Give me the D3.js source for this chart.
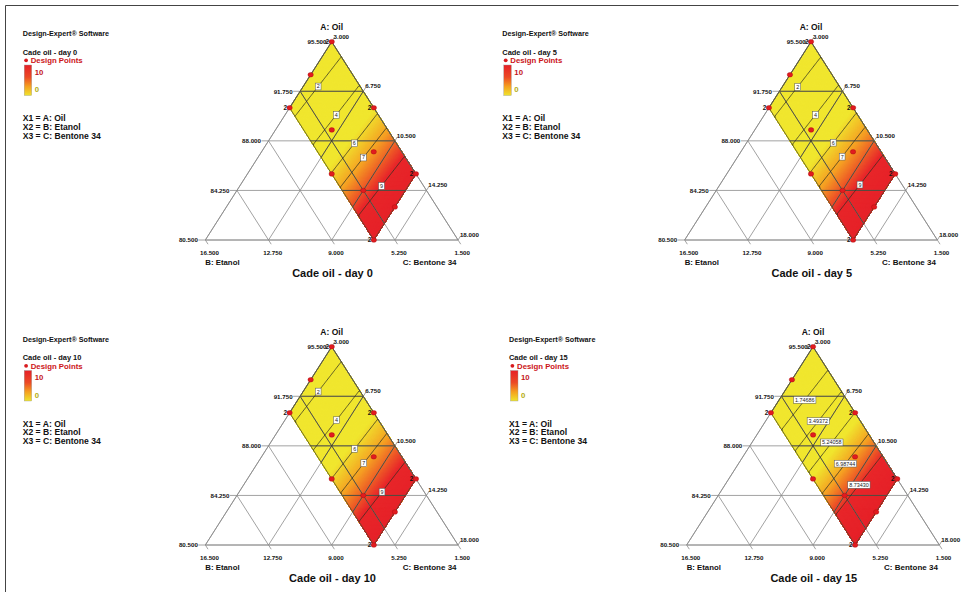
<!DOCTYPE html>
<html><head><meta charset="utf-8">
<script src="https://cdn.jsdelivr.net/npm/d3@7"></script>
<style>
html,body{margin:0;padding:0;background:#fff;}
svg{display:block;font-family:"Liberation Sans",Arial,sans-serif;font-weight:bold;}
</style></head><body>
<svg id="chart" width="965" height="592"></svg>
<script>
// Mixture components and their axis ticks (% w/w)
const tickA = [95.5, 91.75, 88, 84.25, 80.5];
const tickB = [16.5, 12.75, 9, 5.25, 1.5];
const tickC = [3, 6.75, 10.5, 14.25, 18];
const tickLabelsA = ["95.500", "91.750", "88.000", "84.250", "80.500"];
const tickLabelsB = ["16.500", "12.750", "9.000", "5.250", "1.500"];
const tickLabelsC = ["3.000", "6.750", "10.500", "14.250", "18.000"];

// Constrained design space: B in [1.5, 6.5], C in [3, 13], A = 100 - B - C
const limitsB = [1.5, 6.5];
const limitsC = [3, 13];

// Design points (A, B, C) with replicate counts
const pointA = [95.5, 93, 90.5, 90.5, 88.83, 87.17, 85.5, 84.25, 85.5, 83, 80.5];
const pointB = [1.5, 4, 6.5, 1.5, 4.83, 3.17, 6.5, 5.25, 1.5, 4, 6.5];
const pointC = [3, 3, 3, 8, 6.34, 9.66, 8, 10.5, 13, 13, 13];
const pointReps = [2, 1, 2, 2, 1, 1, 1, 1, 2, 1, 2];

// One panel per storage day
const panelTitles = ["Cade oil - day 0", "Cade oil - day 5", "Cade oil - day 10", "Cade oil - day 15"];
// Linear mixture model (L-pseudo components A', B', C') for each day
const coefA = [0.94, 0.90, 0.95, -0.18];
const coefB = [2.33, 2.30, 2.30, 1.45];
const coefC = [14.90, 15.10, 14.80, 16.12];
// Contour levels drawn and labelled on each panel
const contourLevels = [
  [2, 4, 6, 7, 9],
  [2, 4, 6, 7, 9],
  [2, 4, 6, 7, 9],
  [1.74686, 3.49372, 5.24058, 6.98744, 8.73430]
];
const contourFormats = ["d", "d", "d", ".6r"];

// Layout: triangle apex of each panel and legend origin
const apexX = [331.7, 811, 331.7, 813];
const apexY = [41.7, 41.7, 346.7, 346.7];
const legendX = [22.7, 502.3, 22.7, 509];
const legendY = [0, 0, 305.5, 305.5];
const triW = 252.7, triH = 198.3;

const svg = d3.select("#chart");
const defs = svg.append("defs");

// response colour ramp
const fillColor = d3.scaleLinear()
  .domain([0, 5.7, 7.2, 8.9, 12])
  .range(["#f0e62e", "#f0e62e", "#f5a023", "#e8262a", "#e41e27"])
  .clamp(true);

const legendGrad = defs.append("linearGradient").attr("id", "legendGrad")
  .attr("x1", 0).attr("y1", 0).attr("x2", 0).attr("y2", 1);
[[0, "#e62027"], [0.4, "#ec4a25"], [0.7, "#f5a020"], [1, "#efe42c"]].forEach(s =>
  legendGrad.append("stop").attr("offset", s[0]).attr("stop-color", s[1]));

// page frame (left and top rules)
svg.append("path").attr("d", "M5.5,600V5.5H958.5").attr("fill", "none")
  .attr("stroke", "#444").attr("stroke-width", 1);

const nB = 50, nC = 100;

panelTitles.forEach((title, k) => {
  const g = svg.append("g");
  const tx = apexX[k], ty = apexY[k];

  // ternary projection through linear scales
  const yScale = d3.scaleLinear().domain([80.5, 95.5]).range([ty + triH, ty]);
  const xScale = d3.scaleLinear().domain([-15, 15]).range([tx - triW / 2, tx + triW / 2]);
  const proj = (A, B, C) => [xScale((C - 3) - (B - 1.5)), yScale(A)];
  const model = (A, B, C) => coefA[k] * (A - 80.5) / 15 + coefB[k] * (B - 1.5) / 15 + coefC[k] * (C - 3) / 15;

  const top = proj(95.5, 1.5, 3), bl = proj(80.5, 16.5, 3), br = proj(80.5, 1.5, 18);
  const unit = (p, q) => { const d = Math.hypot(q[0] - p[0], q[1] - p[1]); return [(q[0] - p[0]) / d, (q[1] - p[1]) / d]; };
  const dirB = unit(top, br);   // down-right, along constant B
  const dirC = unit(bl, top);   // up-right, along constant C

  // ---- filled response surface on the design region
  const gxScale = d3.scaleLinear().domain([0, nB]).range(limitsB);
  const gyScale = d3.scaleLinear().domain([0, nC]).range(limitsC);
  const values = new Array(nB * nC);
  for (let j = 0; j < nC; j++) for (let i = 0; i < nB; i++) {
    const B = gxScale(i + 0.5), C = gyScale(j + 0.5);
    values[j * nB + i] = model(100 - B - C, B, C);
  }
  const toPx = (gx, gy) => { const B = gxScale(gx), C = gyScale(gy); return proj(100 - B - C, B, C); };
  const geo = d3.geoPath(d3.geoTransform({
    point(x, y) { const p = toPx(x, y); this.stream.point(p[0], p[1]); }
  }));
  const [vmin, vmax] = d3.extent(values);
  const step = 0.05;
  const bands = d3.range(Math.floor(vmin / step) * step, vmax, step);
  const contours = d3.contours().size([nB, nC]).thresholds(bands)(values);
  g.append("g").selectAll("path").data(contours).join("path")
    .attr("d", geo).attr("fill", d => fillColor(d.value + step / 2))
    .attr("stroke", d => fillColor(d.value + step / 2)).attr("stroke-width", 0.3);

  // ---- grid lines and triangle
  const region = [proj(95.5, 1.5, 3), proj(85.5, 1.5, 13), proj(80.5, 6.5, 13), proj(90.5, 6.5, 3)];
  const clipId = "clip" + k;
  defs.append("clipPath").attr("id", clipId).append("path")
    .attr("d", "M" + region.map(p => p.join(",")).join("L") + "Z");

  const gridSegs = [];
  tickA.forEach(a => gridSegs.push([proj(a, 100 - a - 3, 3), proj(a, 1.5, 100 - a - 1.5)]));
  tickB.forEach(b => gridSegs.push([proj(80.5, b, 100 - 80.5 - b), proj(100 - 3 - b, b, 3)]));
  tickC.forEach(c => gridSegs.push([proj(80.5, 100 - 80.5 - c, c), proj(100 - 1.5 - c, 1.5, c)]));
  const seg = d => `M${d[0][0]},${d[0][1]}L${d[1][0]},${d[1][1]}`;
  g.append("g").selectAll("path").data(gridSegs).join("path").attr("d", seg)
    .attr("stroke", "#8a8a8a").attr("stroke-width", 0.8).attr("fill", "none");
  g.append("g").attr("clip-path", `url(#${clipId})`).selectAll("path").data(gridSegs).join("path").attr("d", seg)
    .attr("stroke", "#3a3a2a").attr("stroke-width", 0.75).attr("fill", "none");
  g.append("path").attr("d", `M${top}L${bl}L${br}Z`).attr("fill", "none")
    .attr("stroke", "#8a8a8a").attr("stroke-width", 0.8);

  // ticks beyond the edges
  const ticks = [];
  tickA.forEach(a => { const p = proj(a, 100 - a - 3, 3); ticks.push([p, [p[0] - 7, p[1]]]); });
  tickB.forEach(b => { const p = proj(80.5, b, 100 - 80.5 - b); ticks.push([p, [p[0] + dirB[0] * 5, p[1] + dirB[1] * 5]]); });
  tickC.forEach(c => { const p = proj(100 - 1.5 - c, 1.5, c); ticks.push([p, [p[0] + dirC[0] * 5, p[1] + dirC[1] * 5]]); });
  g.append("g").selectAll("path").data(ticks).join("path").attr("d", seg)
    .attr("stroke", "#8a8a8a").attr("stroke-width", 0.8);

  // region outline
  g.append("path").attr("d", "M" + region.map(p => p.join(",")).join("L") + "Z")
    .attr("fill", "none").attr("stroke", "#4a4a30").attr("stroke-width", 0.8);

  // ---- contour lines (interior parts only)
  const onEdge = (p, q) => (p[0] === 0 && q[0] === 0) || (p[0] === nB && q[0] === nB) ||
                           (p[1] === 0 && q[1] === 0) || (p[1] === nC && q[1] === nC);
  const lineContours = d3.contours().size([nB, nC]).thresholds(contourLevels[k])(values);
  const linePaths = lineContours.map(c => {
    let d = "";
    c.coordinates.forEach(poly => poly.forEach(ring => {
      let pen = false;
      for (let i = 0; i < ring.length - 1; i++) {
        const p = ring[i], q = ring[i + 1];
        if (onEdge(p, q)) { pen = false; continue; }
        const a = toPx(p[0], p[1]), b = toPx(q[0], q[1]);
        if (!pen) { d += `M${a[0]},${a[1]}`; pen = true; }
        d += `L${b[0]},${b[1]}`;
      }
    }));
    return d;
  });
  g.append("g").selectAll("path").data(linePaths).join("path").attr("d", d => d)
    .attr("fill", "none").attr("stroke", "#2e2e22").attr("stroke-width", 0.75);

  // contour labels along the mid line B = 4
  const fmt = d3.format(contourFormats[k]);
  contourLevels[k].forEach(level => {
    let lo = limitsC[0], hi = limitsC[1];
    for (let it = 0; it < 40; it++) {
      const mid = (lo + hi) / 2;
      if (model(100 - 4 - mid, 4, mid) < level) lo = mid; else hi = mid;
    }
    const p = proj(100 - 4 - lo, 4, lo);
    const t = g.append("text").attr("x", p[0]).attr("y", p[1]).attr("dy", "0.36em")
      .attr("text-anchor", "middle").attr("font-size", 5.4).attr("font-weight", "normal")
      .attr("fill", "#222").text(fmt(level));
    const bb = t.node().getBBox();
    g.insert("rect", () => t.node()).attr("x", bb.x - 1.4).attr("y", p[1] - 3.4)
      .attr("width", bb.width + 2.8).attr("height", 6.8)
      .attr("fill", "#fff").attr("stroke", "#555").attr("stroke-width", 0.5);
  });

  // ---- design points
  pointA.forEach((a, i) => {
    const p = proj(a, pointB[i], pointC[i]);
    g.append("ellipse").attr("cx", p[0]).attr("cy", p[1]).attr("rx", 2.7).attr("ry", 2.3)
      .attr("fill", "#e11b1f").attr("stroke", "#a50d10").attr("stroke-width", 0.4);
    if (pointReps[i] > 1) {
      g.append("text").attr("x", p[0] - 2.6).attr("y", p[1]).attr("dy", "0.36em")
        .attr("text-anchor", "end").attr("font-size", 6.3).attr("fill", "#111").text(pointReps[i]);
    }
  });

  // ---- tick labels
  tickA.forEach((a, i) => {
    const p = proj(a, 100 - a - 3, 3);
    g.append("text").attr("x", p[0] - (i === 0 ? 5.2 : 7.5)).attr("y", p[1]).attr("dy", "0.36em")
      .attr("text-anchor", "end").attr("font-size", 6.2).attr("fill", "#111").text(tickLabelsA[i]);
  });
  tickB.forEach((b, i) => {
    const p = proj(80.5, b, 100 - 80.5 - b);
    g.append("text").attr("x", p[0] + dirB[0] * 5 + 1.5).attr("y", p[1] + 14.5)
      .attr("text-anchor", "middle").attr("font-size", 6.2).attr("fill", "#111").text(tickLabelsB[i]);
  });
  tickC.forEach((c, i) => {
    const p = proj(100 - 1.5 - c, 1.5, c);
    g.append("text").attr("x", p[0] + dirC[0] * 5 - 0.8).attr("y", p[1] + dirC[1] * 5 - 1).attr("dy", "0.36em")
      .attr("font-size", 6.2).attr("fill", "#111").text(tickLabelsC[i]);
  });

  // ---- axis titles and panel title
  g.append("text").attr("x", top[0]).attr("y", top[1] - 11.5).attr("text-anchor", "middle")
    .attr("font-size", 8.5).attr("fill", "#111").text("A: Oil");
  g.append("text").attr("x", bl[0]).attr("y", bl[1] + 24.5)
    .attr("font-size", 7.8).attr("fill", "#111").text("B: Etanol");
  g.append("text").attr("x", br[0] - 1.5).attr("y", br[1] + 24.5).attr("text-anchor", "end")
    .attr("font-size", 8).attr("fill", "#111").text("C: Bentone 34");
  g.append("text").attr("x", tx + 0.8).attr("y", ty + 235).attr("text-anchor", "middle")
    .attr("font-size", 11).attr("fill", "#111").text(title);

  // ---- legend
  const lx = legendX[k], ly = legendY[k];
  const lg = svg.append("g").attr("transform", `translate(${lx},${ly})`);
  const legendText = (x, y, s, col, size) => lg.append("text").attr("x", x).attr("y", y)
    .attr("font-size", size).attr("fill", col || "#111").text(s);
  legendText(0, 36, "Design-Expert® Software", "#111", 7.2);
  legendText(0, 54.5, title, "#111", 7.45);
  lg.append("circle").attr("cx", 3.4).attr("cy", 60.3).attr("r", 1.9).attr("fill", "#d81b1f");
  legendText(8, 63.3, "Design Points", "#cc1418", 7.8);
  lg.append("rect").attr("x", 1.5).attr("y", 65).attr("width", 7.5).attr("height", 30.5)
    .attr("fill", "url(#legendGrad)").attr("stroke", "#999").attr("stroke-width", 0.4);
  legendText(12, 74.6, "10", "#c4161b", 7.8);
  legendText(12, 92, "0", "#b5ad10", 7.8);
  legendText(0, 121.2, "X1 = A: Oil", "#111", 8.6);
  legendText(0, 129.8, "X2 = B: Etanol", "#111", 8.6);
  legendText(0, 138.6, "X3 = C: Bentone 34", "#111", 8.6);
});
</script>
</body></html>
